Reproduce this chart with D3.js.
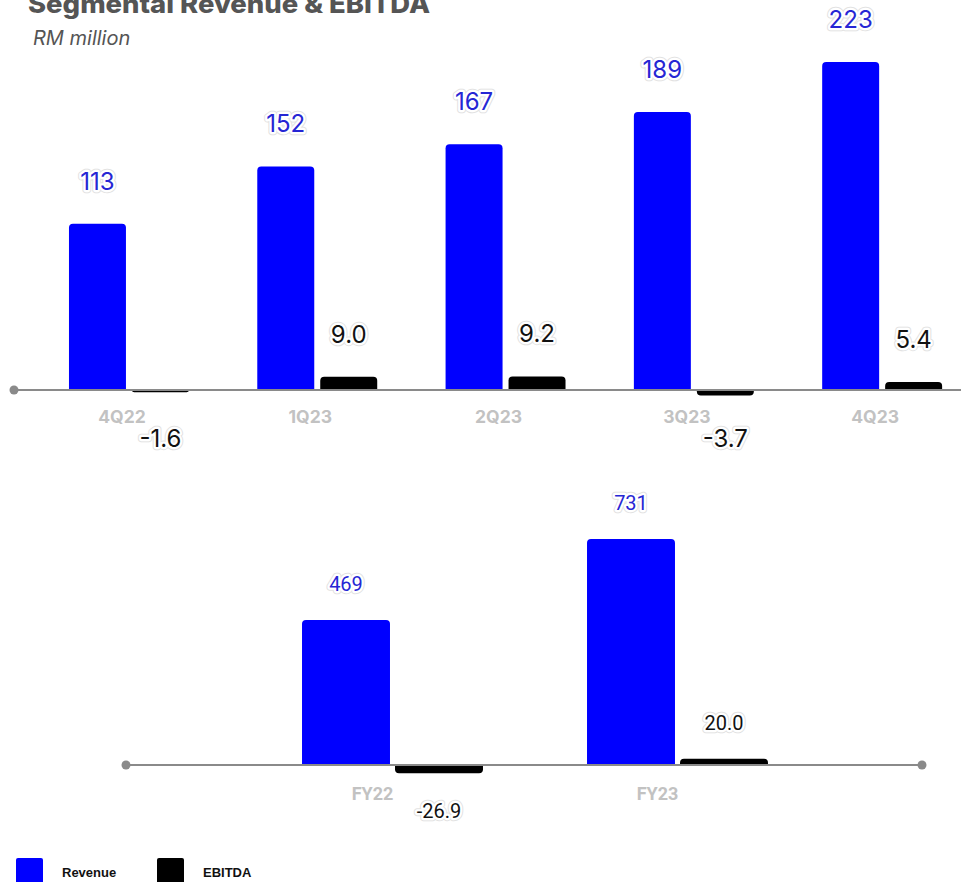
<!DOCTYPE html>
<html>
<head>
<meta charset="utf-8">
<script src="https://cdn.jsdelivr.net/npm/d3@7"></script>
<style>
  html, body { margin: 0; padding: 0; background: #fff; }
  svg { display: block; }
</style>
</head>
<body>
<div id="chart"></div>
<script>
// quarterly data (RM million)
const quarters = ["4Q22", "1Q23", "2Q23", "3Q23", "4Q23"];
const qRevenue = [113, 152, 167, 189, 223];
const qEbitda = [-1.6, 9.0, 9.2, -3.7, 5.4];

// full year data
const years = ["FY22", "FY23"];
const fyRevenue = [469, 731];
const fyEbitda = [-26.9, 20.0];

const seriesNames = ["Revenue", "EBITDA"];
const colors = { Revenue: "#0000ff", EBITDA: "#000000" };

const width = 961, height = 882;

const svg = d3.select("#chart").append("svg")
  .attr("width", width)
  .attr("height", height)
  .attr("viewBox", [0, 0, width, height]);

// title (cut at the top edge, as in the source)
svg.append("text")
  .attr("x", 28).attr("y", 13)
  .attr("font-family", "Inter, 'Open Sans', sans-serif")
  .attr("font-weight", 800)
  .attr("font-size", 26)
  .attr("fill", "#555")
  .attr("textLength", 402)
  .attr("lengthAdjust", "spacingAndGlyphs")
  .text("Segmental Revenue & EBITDA");

svg.append("text")
  .attr("x", 33).attr("y", 45)
  .attr("font-family", "Inter, 'Open Sans', sans-serif")
  .attr("font-style", "italic")
  .attr("font-size", 20)
  .attr("fill", "#555")
  .text("RM million");

// label with halo
function haloText(g, x, y, txt, opts) {
  const base = g.append("g")
    .attr("font-family", opts.font)
    .attr("font-size", opts.size)
    .attr("text-anchor", "middle");
  base.append("text").attr("x", x).attr("y", y)
    .attr("fill", "none").attr("stroke", "#e2e2e2").attr("stroke-width", 6.5)
    .attr("stroke-linejoin", "round").text(txt);
  base.append("text").attr("x", x).attr("y", y)
    .attr("fill", opts.color).attr("stroke", "#fff").attr("stroke-width", 4.5)
    .attr("stroke-linejoin", "round").attr("paint-order", "stroke")
    .text(txt);
}

function drawPanel(cfg) {
  const g = svg.append("g");
  const data = cfg.cats.map((c, i) => ({ cat: c, Revenue: cfg.rev[i], EBITDA: cfg.ebitda[i] }));

  const x0 = d3.scaleBand().domain(cfg.cats).range(cfg.xRange)
    .paddingInner(cfg.padInner).paddingOuter(cfg.padOuter);
  const x1 = d3.scaleBand().domain(seriesNames).range([0, x0.bandwidth()])
    .paddingInner(cfg.barGap);
  const y = d3.scaleLinear().domain([0, cfg.yMax]).range([cfg.baseY, cfg.topY]);

  const groups = g.selectAll("g.grp").data(data).join("g")
    .attr("transform", d => `translate(${x0(d.cat)},0)`);

  groups.selectAll("path").data(d => seriesNames.map(k => ({ key: k, value: d[k] }))).join("path")
    .attr("fill", d => colors[d.key])
    .attr("d", d => {
      const bx = x1(d.key), bw = x1.bandwidth();
      const y0 = y(0), yv = y(d.value);
      const h = Math.abs(y0 - yv);
      const r = Math.min(cfg.radius, h);
      if (d.value >= 0) {
        return `M${bx},${y0}V${yv + r}Q${bx},${yv} ${bx + r},${yv}H${bx + bw - r}Q${bx + bw},${yv} ${bx + bw},${yv + r}V${y0}Z`;
      }
      return `M${bx},${y0}V${yv - r}Q${bx},${yv} ${bx + r},${yv}H${bx + bw - r}Q${bx + bw},${yv} ${bx + bw},${yv - r}V${y0}Z`;
    });

  // value labels
  data.forEach(d => {
    const gx = x0(d.cat);
    haloText(g, gx + x1("Revenue") + x1.bandwidth() / 2, y(d.Revenue) - cfg.revOff,
      d3.format("d")(d.Revenue), { font: cfg.labelFont, size: cfg.labelSize, color: "#2626d4" });
    const ey = d.EBITDA >= 0 ? y(d.EBITDA) - cfg.ebPosOff : y(0) + cfg.ebNegOff;
    haloText(g, gx + x1("EBITDA") + x1.bandwidth() / 2, ey,
      d3.format(".1f")(d.EBITDA).replace("−", "-"), { font: cfg.labelFont, size: cfg.labelSize, color: "#111" });
  });

  // baseline
  g.append("line")
    .attr("x1", cfg.lineX[0]).attr("x2", cfg.lineX[1])
    .attr("y1", y(0)).attr("y2", y(0))
    .attr("stroke", "#8a8a8a").attr("stroke-width", 2);
  cfg.dots.forEach(dx => {
    g.append("circle").attr("cx", dx).attr("cy", y(0)).attr("r", 4.5).attr("fill", "#8a8a8a");
  });

  // category axis
  const ax = g.append("g")
    .attr("transform", `translate(${cfg.catShift},${y(0)})`)
    .call(d3.axisBottom(x0).tickSize(0).tickPadding(cfg.catPad));
  ax.select(".domain").remove();
  ax.selectAll("text")
    .attr("font-family", cfg.catFont)
    .attr("font-weight", 700)
    .attr("font-size", cfg.catSize)
    .attr("fill", "#c2c2c2");
}

// quarterly panel
drawPanel({
  cats: quarters, rev: qRevenue, ebitda: qEbitda,
  xRange: [34.8, 976.3], padInner: 0.363, padOuter: 0.1815, barGap: 0.095,
  yMax: 223, baseY: 390, topY: 62, radius: 4,
  revOff: 34, ebPosOff: 34, ebNegOff: 57,
  labelFont: "Inter, 'Noto Sans', sans-serif", labelSize: 24,
  lineX: [14, 961], dots: [14],
  catShift: -7, catPad: 21, catFont: "Inter, 'Noto Sans', sans-serif", catSize: 17.5
});

// full-year panel
drawPanel({
  cats: years, rev: fyRevenue, ebitda: fyEbitda,
  xRange: [137, 933], padInner: 0.365, padOuter: 0.579, barGap: 0.054,
  yMax: 731, baseY: 765, topY: 539, radius: 4,
  revOff: 29, ebPosOff: 29, ebNegOff: 53,
  labelFont: "Roboto, 'Liberation Sans', sans-serif", labelSize: 20,
  lineX: [126, 922], dots: [126, 922],
  catShift: -20, catPad: 22, catFont: "Roboto, 'Liberation Sans', sans-serif", catSize: 18
});

// legend
const legend = svg.append("g").attr("transform", "translate(16,858)");
seriesNames.forEach((k, i) => {
  const lg = legend.append("g").attr("transform", `translate(${i * 141},0)`);
  lg.append("rect").attr("width", 27).attr("height", 26).attr("rx", 2).attr("fill", colors[k]);
  lg.append("text").attr("x", 46).attr("y", 19)
    .attr("font-family", "'Liberation Sans', Arial, sans-serif")
    .attr("font-weight", 700).attr("font-size", 13).attr("fill", "#111")
    .text(k);
});
</script>
</body>
</html>
